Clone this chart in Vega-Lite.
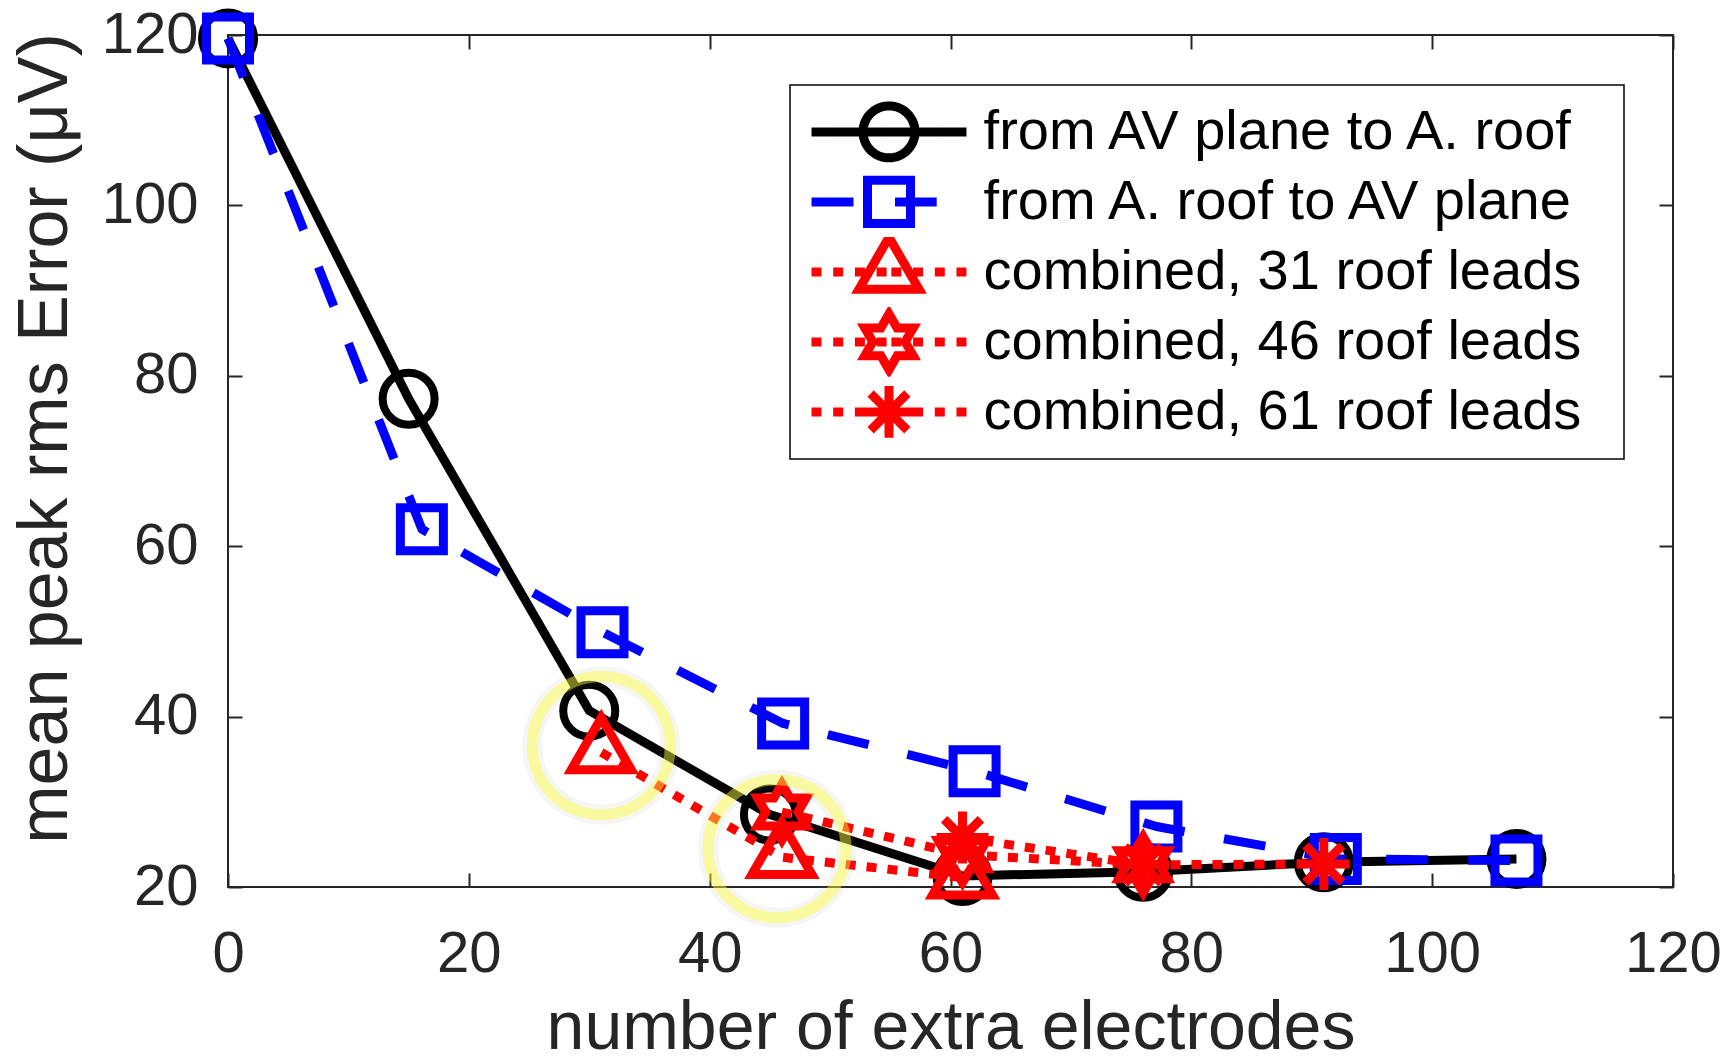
{
  "$schema": "https://vega.github.io/schema/vega-lite/v6.json",
  "autosize": "none",
  "width": 1445,
  "height": 852,
  "padding": {"left": 228, "top": 35, "right": 56, "bottom": 175},
  "background": "white",
  "config": {
    "font": "Liberation Sans",
    "view": {"stroke": "#262626", "strokeWidth": 2},
    "axisBottom": {"labelFontSize": 58, "labelColor": "#262626", "labelPadding": 52, "tickSize": -14, "tickWidth": 2, "tickColor": "#262626", "domain": false, "grid": false, "titleFontSize": 68, "titleFontWeight": "normal", "titleColor": "#262626", "titlePadding": 11, "labelFlush": false, "labelOverlap": false},
    "axisLeft": {"labelFontSize": 58, "labelColor": "#262626", "labelPadding": 44, "tickSize": -14, "tickWidth": 2, "tickColor": "#262626", "domain": false, "grid": false, "titleFontSize": 70, "titleFontWeight": "normal", "titleColor": "#262626", "titlePadding": 20, "labelFlush": false, "labelOverlap": false},
    "axisTop": {"labels": false, "tickSize": -14, "tickWidth": 2, "tickColor": "#262626", "domain": false, "grid": false},
    "axisRight": {"labels": false, "tickSize": -14, "tickWidth": 2, "tickColor": "#262626", "domain": false, "grid": false}
  },
  "datasets": {
    "main": [
      {"series": "from AV plane to A. roof", "x": 0, "y": 119.6},
      {"series": "from AV plane to A. roof", "x": 15, "y": 77.3},
      {"series": "from AV plane to A. roof", "x": 30, "y": 40.7},
      {"series": "from AV plane to A. roof", "x": 45, "y": 28.5},
      {"series": "from AV plane to A. roof", "x": 61, "y": 21.3},
      {"series": "from AV plane to A. roof", "x": 76, "y": 21.8},
      {"series": "from AV plane to A. roof", "x": 91, "y": 22.9},
      {"series": "from AV plane to A. roof", "x": 107, "y": 23.3},
      {"series": "from A. roof to AV plane", "x": 0, "y": 119.6},
      {"series": "from A. roof to AV plane", "x": 16.1, "y": 62.0},
      {"series": "from A. roof to AV plane", "x": 31.1, "y": 49.9},
      {"series": "from A. roof to AV plane", "x": 46.1, "y": 39.2},
      {"series": "from A. roof to AV plane", "x": 62, "y": 33.6},
      {"series": "from A. roof to AV plane", "x": 77.1, "y": 27.1},
      {"series": "from A. roof to AV plane", "x": 92, "y": 23.3},
      {"series": "from A. roof to AV plane", "x": 107, "y": 23.1},
      {"series": "combined, 31 roof leads", "x": 31, "y": 35.8},
      {"series": "combined, 31 roof leads", "x": 46, "y": 23.5},
      {"series": "combined, 31 roof leads", "x": 61, "y": 21.1},
      {"series": "combined, 46 roof leads", "x": 46, "y": 28.8},
      {"series": "combined, 46 roof leads", "x": 61, "y": 23.8},
      {"series": "combined, 46 roof leads", "x": 76, "y": 22.6},
      {"series": "combined, 61 roof leads", "x": 61, "y": 25.8},
      {"series": "combined, 61 roof leads", "x": 76, "y": 22.6},
      {"series": "combined, 61 roof leads", "x": 91, "y": 22.7}
    ],
    "rings": [
      {"x": 31, "y": 36.6},
      {"x": 45.6, "y": 24.5}
    ]
  },
  "data": {"name": "main"},
  "resolve": {"axis": {"x": "independent", "y": "independent"}},
  "layer": [
    {
      "encoding": {
        "x": {"field": "x", "type": "quantitative", "scale": {"domain": [0, 120], "nice": false, "zero": false}, "axis": {"values": [0, 20, 40, 60, 80, 100, 120], "title": "number of extra electrodes"}},
        "y": {"field": "y", "type": "quantitative", "scale": {"domain": [20, 120], "nice": false, "zero": false}, "axis": {"values": [20, 40, 60, 80, 100, 120], "title": "mean peak rms Error (μV)", "titleY": 403}}
      },
      "layer": [
        {
          "transform": [{"filter": "datum.series === 'from AV plane to A. roof'"}],
          "mark": {"type": "line", "strokeWidth": 9, "strokeCap": "butt", "strokeJoin": "round"},
          "encoding": {
            "color": {
              "field": "series", "type": "nominal",
              "scale": {"domain": ["from AV plane to A. roof", "from A. roof to AV plane", "combined, 31 roof leads", "combined, 46 roof leads", "combined, 61 roof leads"], "range": ["#000000", "#0000ff", "#ff0000", "#ff0000", "#ff0000"]},
              "legend": {
                "title": " ", "titleOrient": "right", "titleFontSize": 1, "titlePadding": 31,
                "orient": "none", "legendX": 562, "legendY": 50,
                "padding": 12, "rowPadding": 0, "clipHeight": 69.75,
                "strokeColor": "#000000", "fillColor": "#ffffff",
                "labelFont": "Liberation Sans", "labelFontSize": 56, "labelColor": "#000000", "labelLimit": 2000, "labelOffset": 62.6, "labelBaseline": "middle",
                "symbolSize": 3025, "symbolStrokeWidth": 9, "symbolOffset": 55,
                "encode": {
                  "legend": {"update": {"strokeWidth": {"value": 1.5}}},
                  "symbols": {"update": {
                    "shape": {"signal": "['M-2.818,0L2.818,0M0.945,0A0.945,0.945,0,1,1,-0.945,0A0.945,0.945,0,1,1,0.945,0Z', 'M-2.818,0L-1.291,0M0.218,0L1.735,0M-0.782,-0.782L0.782,-0.782L0.782,0.782L-0.782,0.782Z', 'M-2.818,0L-2.455,0M-2.029,0L-1.665,0M-1.24,0L-0.876,0M-0.451,0L-0.087,0M0.087,0L0.451,0M0.876,0L1.24,0M1.665,0L2.029,0M2.455,0L2.818,0M0,-1.258L1.091,0.629L-1.091,0.629Z', 'M-2.818,0L-2.455,0M-2.029,0L-1.665,0M-1.24,0L-0.876,0M-0.451,0L-0.087,0M0.087,0L0.451,0M0.876,0L1.24,0M1.665,0L2.029,0M2.455,0L2.818,0M0,-1.018L0.294,-0.509L0.882,-0.509L0.588,0L0.882,0.509L0.294,0.509L0,1.018L-0.294,0.509L-0.882,0.509L-0.588,0L-0.882,-0.509L-0.294,-0.509Z', 'M-2.818,0L-2.455,0M-2.029,0L-1.665,0M-1.24,0L-0.876,0M-0.451,0L-0.087,0M0.087,0L0.451,0M0.876,0L1.24,0M1.665,0L2.029,0M2.455,0L2.818,0M0,-0.945L0,0.945M-0.945,0L0.945,0M-0.668,-0.668L0.668,0.668M-0.668,0.668L0.668,-0.668'][indexof(['from AV plane to A. roof', 'from A. roof to AV plane', 'combined, 31 roof leads', 'combined, 46 roof leads', 'combined, 61 roof leads'], datum.value)]"},
                    "size": {"value": 3025},
                    "strokeWidth": {"value": 9},
                    "fill": {"value": "transparent"},
                    "strokeDash": {"value": [1, 0]},
                    "opacity": {"value": 1}
                  }}
                }
              }
            }
          }
        },
        {
          "transform": [{"filter": "datum.series === 'from AV plane to A. roof'"}],
          "mark": {"type": "point", "shape": "circle", "size": 2704, "filled": false, "strokeWidth": 8, "opacity": 1, "color": "#000000"}
        },
        {
          "transform": [{"filter": "datum.series === 'from A. roof to AV plane'"}],
          "mark": {"type": "line", "strokeWidth": 9, "strokeCap": "butt", "strokeJoin": "round", "color": "#0000ff", "strokeDash": [42, 40]}
        },
        {
          "transform": [{"filter": "datum.series === 'from A. roof to AV plane'"}],
          "mark": {"type": "point", "shape": "square", "size": 1849, "filled": false, "strokeWidth": 9, "opacity": 1, "color": "#0000ff"}
        },
        {
          "transform": [{"filter": {"field": "series", "oneOf": ["combined, 31 roof leads", "combined, 46 roof leads", "combined, 61 roof leads"]}}],
          "mark": {"type": "line", "strokeWidth": 9, "strokeCap": "butt", "strokeJoin": "round", "color": "#ff0000", "strokeDash": [10, 11]},
          "encoding": {"detail": {"field": "series", "type": "nominal"}}
        },
        {
          "transform": [{"filter": "datum.series === 'combined, 31 roof leads'"}],
          "mark": {"type": "point", "shape": "M0,-1.153L1,0.577L-1,0.577Z", "size": 3600, "filled": false, "strokeWidth": 9, "opacity": 1, "color": "#ff0000"}
        },
        {
          "transform": [{"filter": "datum.series === 'combined, 46 roof leads'"}],
          "mark": {"type": "point", "shape": "M0,-0.933L0.269,-0.467L0.808,-0.467L0.539,0L0.808,0.467L0.269,0.467L0,0.933L-0.269,0.467L-0.808,0.467L-0.539,0L-0.808,-0.467L-0.269,-0.467Z", "size": 3600, "filled": false, "strokeWidth": 9, "opacity": 1, "color": "#ff0000"}
        },
        {
          "transform": [{"filter": "datum.series === 'combined, 61 roof leads'"}],
          "mark": {"type": "point", "shape": "M0,-0.867L0,0.867M-0.867,0L0.867,0M-0.613,-0.613L0.613,0.613M-0.613,0.613L0.613,-0.613", "size": 3600, "filled": false, "strokeWidth": 9, "opacity": 1, "color": "#ff0000"}
        },
        {
          "data": {"name": "rings"},
          "mark": {"type": "point", "shape": "circle", "size": 19044, "filled": false, "strokeWidth": 20, "color": "#808060", "opacity": 1, "strokeOpacity": 0.08}
        },
        {
          "data": {"name": "rings"},
          "mark": {"type": "point", "shape": "circle", "size": 19044, "filled": false, "strokeWidth": 11, "color": "#ffff3c", "opacity": 1, "strokeOpacity": 0.45}
        }
      ]
    },
    {
      "data": {"name": "rings"},
      "mark": {"type": "point", "opacity": 0},
      "encoding": {
        "x": {"field": "x", "type": "quantitative", "scale": {"domain": [0, 120], "nice": false, "zero": false}, "axis": {"orient": "top", "values": [0, 20, 40, 60, 80, 100, 120], "labels": false, "title": null}},
        "y": {"field": "y", "type": "quantitative", "scale": {"domain": [20, 120], "nice": false, "zero": false}, "axis": {"orient": "right", "values": [20, 40, 60, 80, 100, 120], "labels": false, "title": null}}
      }
    }
  ]
}
